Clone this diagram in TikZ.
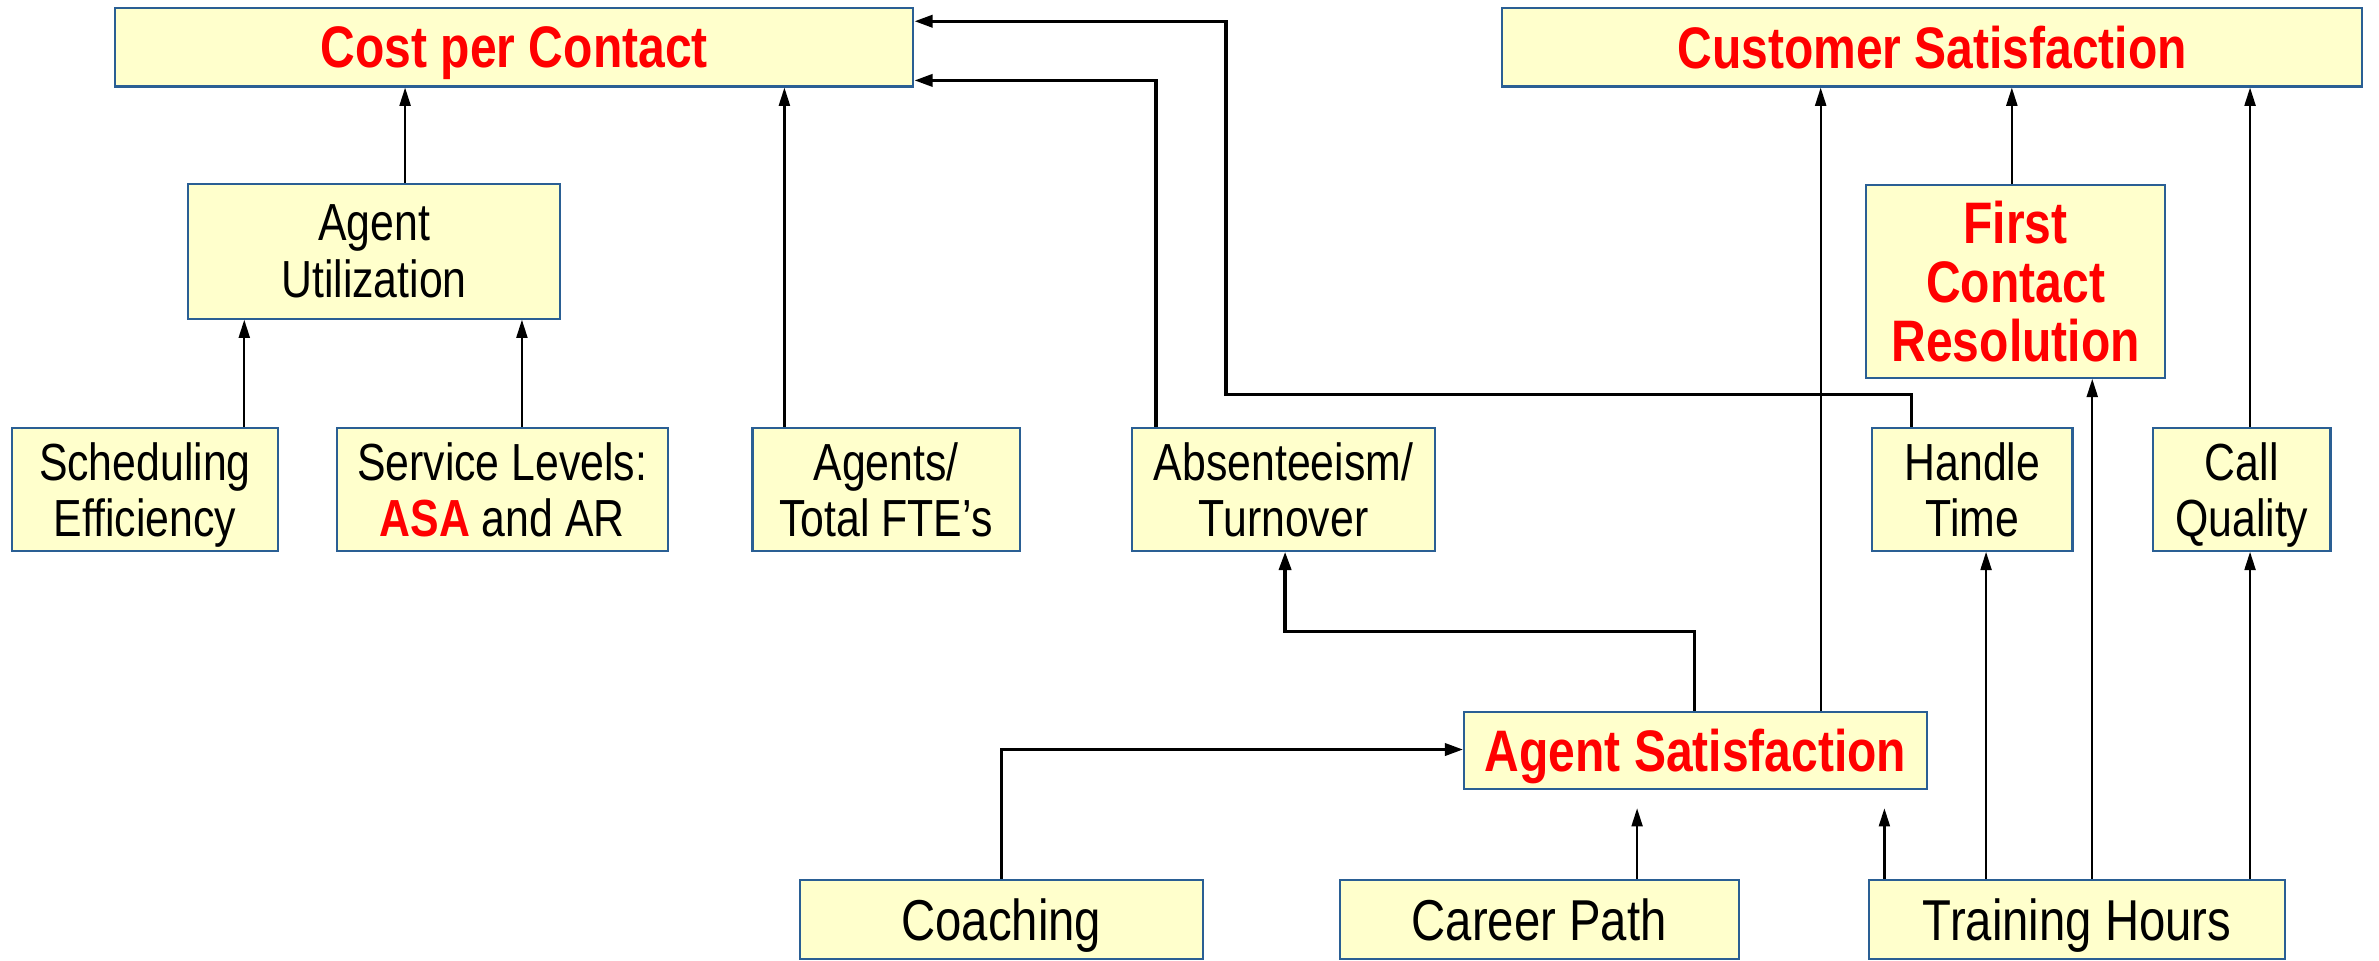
\documentclass[tikz,border=0pt]{standalone}
\usepackage{fontspec}
\setmainfont{Liberation Sans}[FakeStretch=0.82]
\usetikzlibrary{arrows.meta,calc}
\definecolor{boxfill}{HTML}{FFFFCC}
\definecolor{boxline}{HTML}{2A5F94}
\definecolor{hot}{HTML}{FF0000}
\tikzset{
  box/.style={draw=boxline, line width=0.7pt, fill=boxfill, align=center, inner sep=0pt, text depth=0pt},
  small/.style={font=\fontsize{17.2}{18.6}\selectfont},
  big/.style={font=\fontsize{19}{21}\selectfont},
  title/.style={font=\fontsize{19.3}{19.4}\selectfont\bfseries, text=hot},
  arr/.style={line width=0.75pt, -{Triangle[length=6pt,width=3.6pt]}},
  arrthick/.style={line width=1.1pt, -{Triangle[length=6pt,width=4pt]}},
}
\begin{document}
\begin{tikzpicture}[x=0.5pt,y=-0.5pt]
\useasboundingbox (0,0) rectangle (1568,633);
% top row
\node[box,title,minimum width=263pt,minimum height=26pt] (cost) at (339,31) {Cost per Contact};
\node[box,title,minimum width=283.5pt,minimum height=26pt] (cust) at (1273.5,31) {Customer Satisfaction};
% second row
\node[box,small,minimum width=122.5pt,minimum height=44.5pt] (au) at (246.5,165.5) {Agent\\Utilization};
\node[box,title,minimum width=98.5pt,minimum height=63.5pt] (fcr) at (1328.5,185.5) {First\\Contact\\Resolution};
% third row
\node[box,small,minimum width=87.5pt,minimum height=40.5pt] (sched) at (95.5,322.5) {Scheduling\\Efficiency};
\node[box,small,minimum width=109pt,minimum height=40.5pt] (serv) at (331,322.5) {Service Levels:\\{\bfseries\color{hot}ASA} and AR};
\node[box,small,minimum width=88pt,minimum height=40.5pt] (agents) at (584,322.5) {Agents/\\Total FTE’s};
\node[box,small,minimum width=100pt,minimum height=40.5pt] (abs) at (846,322.5) {Absenteeism/\\Turnover};
\node[box,small,minimum width=66pt,minimum height=40.5pt] (ht) at (1300,322.5) {Handle\\Time};
\node[box,small,minimum width=58.5pt,minimum height=40.5pt] (cq) at (1477.5,322.5) {Call\\Quality};
% agent satisfaction
\node[box,title,minimum width=152.5pt,minimum height=25.5pt] (as) at (1117.5,494.5) {Agent Satisfaction};
% bottom row
\node[box,big,minimum width=133pt,minimum height=26pt] (coach) at (660,606) {Coaching};
\node[box,big,minimum width=131.5pt,minimum height=26pt] (career) at (1014.5,606) {Career Path};
\node[box,big,minimum width=137pt,minimum height=26pt] (train) at (1369,606) {Training Hours};
% connectors
\draw[arr] (267,0 |- au.north) -- (267,0 |- cost.south);
\draw[arr] (161,0 |- sched.north) -- (161,0 |- au.south);
\draw[arr] (344,0 |- serv.north) -- (344,0 |- au.south);
\draw[arr] (517,0 |- agents.north) -- (517,0 |- cost.south);
\draw[arrthick] (762,0 |- abs.north) -- (762,53) -- (cost.east |- 0,53);
\draw[arrthick] (1260,0 |- ht.north) -- (1260,260) -- (808,260) -- (808,14) -- (cost.east |- 0,14);
\draw[arrthick] (1117,0 |- as.north) -- (1117,416) -- (847,416) -- (847,0 |- abs.south);
\draw[arr] (1200,0 |- as.north) -- (1200,0 |- cust.south);
\draw[arr] (1326,0 |- fcr.north) -- (1326,0 |- cust.south);
\draw[arr] (1483,0 |- cq.north) -- (1483,0 |- cust.south);
\draw[arrthick] (660,0 |- coach.north) -- (660,494) -- (as.west |- 0,494);
\draw[arr] (1079,0 |- career.north) -- ($(1079,0 |- as.south)+(0,12)$);
\draw[arr] (1242,0 |- train.north) -- ($(1242,0 |- as.south)+(0,12)$);
\draw[arr] (1309,0 |- train.north) -- (1309,0 |- ht.south);
\draw[arr] (1379,0 |- train.north) -- (1379,0 |- fcr.south);
\draw[arr] (1483,0 |- train.north) -- (1483,0 |- cq.south);
\end{tikzpicture}
\end{document}
